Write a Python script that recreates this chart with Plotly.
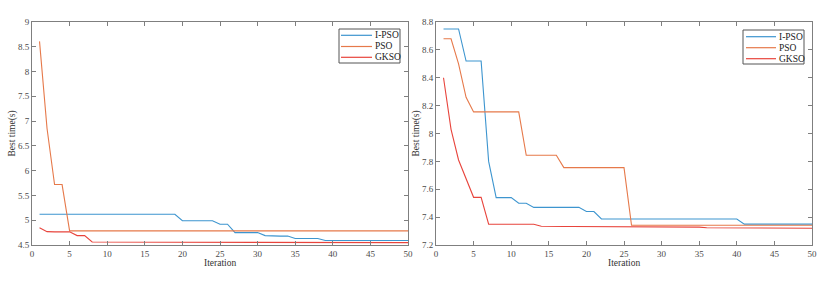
import plotly.graph_objects as go

iterations = list(range(1, 51))

# Left panel
left_ipso = [5.12] * 19 + [4.99] * 5 + [4.92] * 2 + [4.75] * 4 + [4.69] + [4.68] * 3 + [4.63] * 4 + [4.59] * 12
left_pso = [8.61, 6.85, 5.72, 5.72] + [4.785] * 46
left_gkso = [4.85, 4.77, 4.765, 4.765, 4.765, 4.69, 4.69] + [4.56] * 13 + [4.555] * 15 + [4.55] * 10 + [4.547] * 5

# Right panel
right_ipso = [8.75] * 3 + [8.52] * 3 + [7.80] + [7.54] * 3 + [7.50] * 2 + [7.47] * 7 + [7.44] * 2 + [7.387] * 19 + [7.35] * 10
right_pso = [8.68, 8.68, 8.50, 8.26] + [8.155] * 7 + [7.844] * 5 + [7.755] * 9 + [7.342] * 25
right_gkso = [8.40, 8.03, 7.81, 7.68, 7.542, 7.542] + [7.349] * 7 + [7.335] + [7.333] * 11 + [7.328] * 10 + [7.324] * 10 + [7.32] * 5

series_names = ["I-PSO", "PSO", "GKSO"]
colors = ["#3d95cf", "#e6794a", "#e8443c"]

left_yticks = [4.5, 5, 5.5, 6, 6.5, 7, 7.5, 8, 8.5, 9]
left_ylabels = ["4.5", "5", "5.5", "6", "6.5", "7", "7.5", "8", "8.5", "9"]
right_yticks = [7.2, 7.4, 7.6, 7.8, 8.0, 8.2, 8.4, 8.6, 8.8]
right_ylabels = ["7.2", "7.4", "7.6", "7.8", "8", "8.2", "8.4", "8.6", "8.8"]
xticks = list(range(0, 51, 5))

x_title = "Iteration"
y_title = "Best time(s)"

W, H = 827, 281
FONT = "Liberation Serif"
AX = "#7f7f7f"
TICKFONT = dict(family=FONT, size=9, color="#4a4a4a")
TITLEFONT = dict(family=FONT, size=9.5, color="#333333")

fig = go.Figure()
for name, ys, c in zip(series_names, [left_ipso, left_pso, left_gkso], colors):
    fig.add_trace(go.Scatter(x=iterations, y=ys, mode="lines", name=name,
                             line=dict(color=c, width=1.1), xaxis="x", yaxis="y",
                             showlegend=False))
for name, ys, c in zip(series_names, [right_ipso, right_pso, right_gkso], colors):
    fig.add_trace(go.Scatter(x=iterations, y=ys, mode="lines", name=name,
                             line=dict(color=c, width=1.1), xaxis="x2", yaxis="y2",
                             showlegend=False))

def xaxis(domain, anchor):
    return dict(domain=domain, anchor=anchor, range=[0, 50], tickvals=xticks,
                ticktext=[str(t) for t in xticks], ticks="inside", ticklen=4,
                tickcolor=AX, showline=True, linecolor=AX, linewidth=1,
                mirror="allticks", showgrid=False, zeroline=False, automargin=False,
                tickfont=TICKFONT)

def yaxis(domain, anchor, rng, tv, tt):
    return dict(domain=domain, anchor=anchor, range=rng, tickvals=tv, ticktext=tt,
                ticks="inside", ticklen=4, tickcolor=AX, showline=True, linecolor=AX,
                linewidth=1, mirror="allticks", showgrid=False, zeroline=False, automargin=False,
                tickfont=TICKFONT)

ydom = [36 / H, 1 - 22 / H]
fig.update_layout(
    width=W, height=H,
    margin=dict(l=0, r=0, t=0, b=0, autoexpand=False),
    paper_bgcolor="white", plot_bgcolor="white",
    xaxis=xaxis([32 / W, 408 / W], "y"),
    yaxis=yaxis(ydom, "x", [4.5, 9], left_yticks, left_ylabels),
    xaxis2=xaxis([436 / W, 812 / W], "y2"),
    yaxis2=yaxis(ydom, "x2", [7.2, 8.8], right_yticks, right_ylabels),
    showlegend=False,
)

# Axis titles placed like the MATLAB original
for cx in (220, 624):
    fig.add_annotation(xref="paper", yref="paper", x=cx / W, y=1 - 263 / H, text=x_title,
                       showarrow=False, xanchor="center", yanchor="middle",
                       font=TITLEFONT)
for cx in (12, 416):
    fig.add_annotation(xref="paper", yref="paper", x=cx / W, y=1 - 133.5 / H, text=y_title,
                       showarrow=False, xanchor="center", yanchor="middle", textangle=-90,
                       font=TITLEFONT)

# Hand-built compact legends (MATLAB style), in paper pixel positions
legend_boxes = [(339, 29, 400, 63, 341, 372, [35.3, 46.5, 57.3]),
                (743, 30, 804, 64, 746, 776, [36.7, 47.7, 58.7])]
for x0, y0, x1, y1, lx0, lx1, rows in legend_boxes:
    fig.add_shape(type="rect", xref="paper", yref="paper",
                  x0=x0 / W, x1=x1 / W, y0=1 - y0 / H, y1=1 - y1 / H,
                  line=dict(color="#555555", width=1), fillcolor="white", layer="above")
    for name, c, ry in zip(series_names, colors, rows):
        fig.add_shape(type="line", xref="paper", yref="paper",
                      x0=lx0 / W, x1=lx1 / W, y0=1 - ry / H, y1=1 - ry / H,
                      line=dict(color=c, width=1.2), layer="above")
        fig.add_annotation(xref="paper", yref="paper", x=(lx1 + 1) / W, y=1 - ry / H,
                           text=name, showarrow=False, xanchor="left", yanchor="middle",
                           font=dict(family=FONT, size=9.5, color="#222222"))

fig.write_html("out.html", config={"displayModeBar": False},
               post_script="document.body.style.margin='0';")
